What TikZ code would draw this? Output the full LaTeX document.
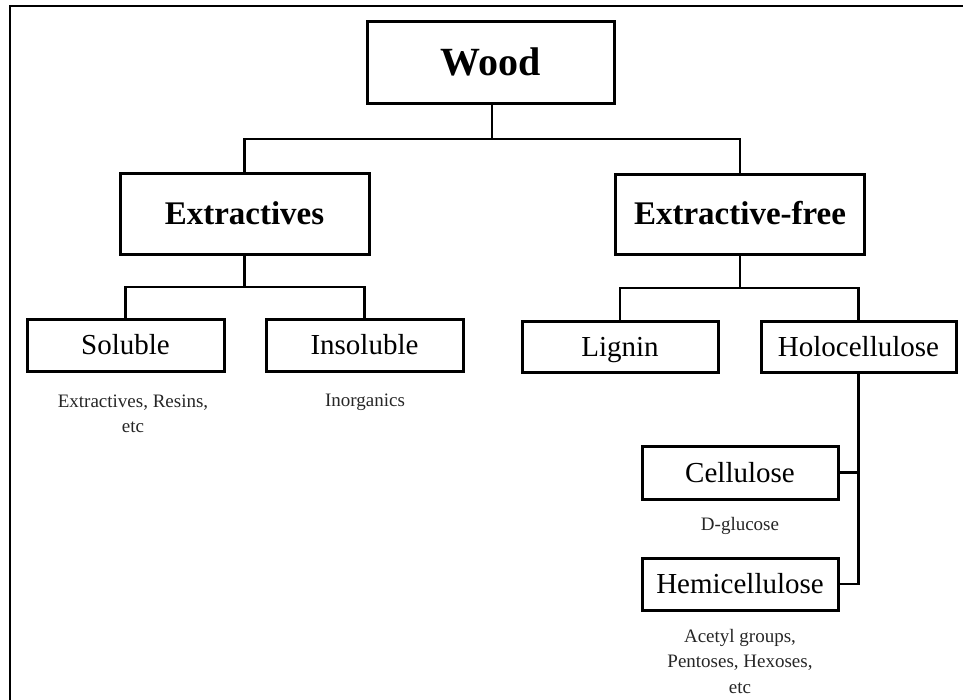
\documentclass[tikz,border=0pt]{standalone}
\usepackage{fontspec}
\setmainfont{Liberation Serif}
\begin{document}
\begin{tikzpicture}[x=1pt,y=-1pt,
  box/.style={draw=black,line width=3pt,fill=white,inner sep=0pt,align=center,text depth=0pt},
  bigbox/.style={box,font=\fontsize{29}{33}\selectfont,text height=19.2pt},
  headbox/.style={box,font=\fontsize{33}{38}\selectfont\bfseries,text height=21.8pt},
  conn/.style={draw=black,line width=2.8pt},
  note/.style={inner sep=0pt,align=center,font=\fontsize{19}{25.5}\selectfont,text=black!85}]
\useasboundingbox (0,0) rectangle (963,699);
% outer frame (only top and left edges visible)
\draw[line width=2.6pt] (10,705) -- (10,6) -- (970,6);
% boxes
\node[box,minimum width=247pt,minimum height=82pt,font=\fontsize{40}{44}\selectfont\bfseries,text height=26.5pt] (wood) at (490.5,62) {Wood};
\node[headbox,minimum width=249pt,minimum height=81pt] (ext) at (244.5,213.5) {Extractives};
\node[headbox,minimum width=249pt,minimum height=80pt] (free) at (740,214) {Extractive-free};
\node[bigbox,minimum width=197pt,minimum height=52pt] (sol) at (125.5,345) {Soluble};
\node[bigbox,minimum width=197pt,minimum height=52pt] (ins) at (364.5,345) {Insoluble};
\node[bigbox,minimum width=196pt,minimum height=51pt] (lig) at (620,346.5) {Lignin};
\node[bigbox,minimum width=195pt,minimum height=51pt] (holo) at (858.5,346.5) {Holocellulose};
\node[bigbox,minimum width=196pt,minimum height=53pt] (cell) at (740,472.5) {Cellulose};
\node[bigbox,minimum width=196pt,minimum height=52pt] (hemi) at (740,584) {Hemicellulose};
% junctions
\coordinate (j1) at (492,139);
\coordinate (j2) at (244.5,287);
\coordinate (j3) at (740,288);
% connectors
\draw[conn] (wood.south -| j1) -- (j1);
\draw[conn] (ext.north) |- (j1) -| (free.north);
\draw[conn] (ext.south) -- (j2);
\draw[conn] (sol.north) |- (j2) -| (ins.north);
\draw[conn] (free.south) -- (j3);
\draw[conn] (lig.north) |- (j3) -| (holo.north);
\draw[conn] (holo.south) |- (cell.east);
\draw[conn] (holo.south) |- (hemi.east);
% notes
\node[note] (n1) at (133,414) {Extractives, Resins,\\etc};
\node[note] (n2) at (365,402) {Inorganics};
\node[note] (n3) at (740,526) {D-glucose};
\node[note] (n4) at (740,661) {Acetyl groups,\\Pentoses, Hexoses,\\etc};
\end{tikzpicture}
\end{document}
